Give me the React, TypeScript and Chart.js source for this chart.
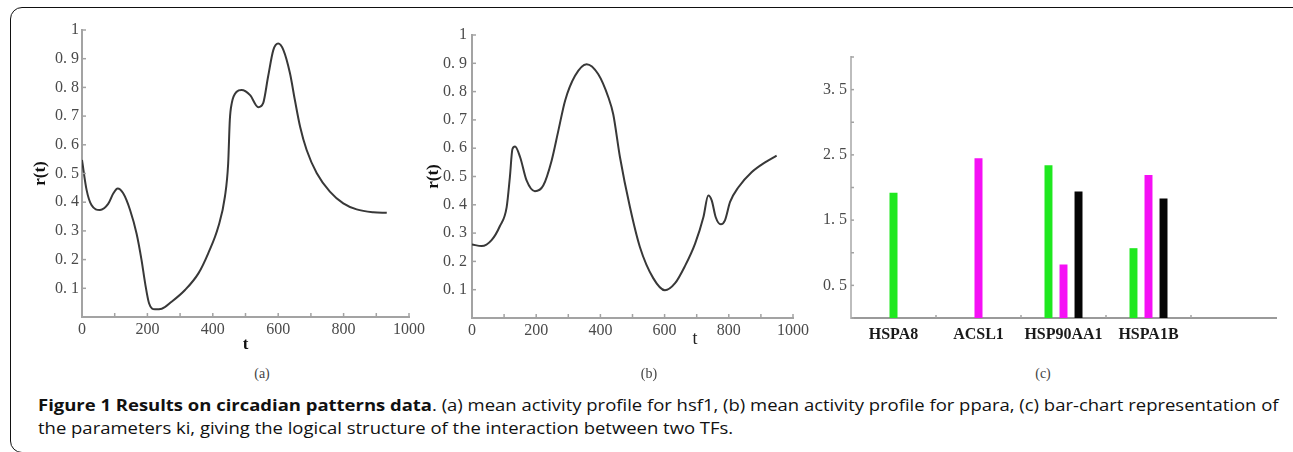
import React, { useEffect, useLayoutEffect, useRef, useState } from 'react';
import { Chart, registerables } from 'chart.js';

Chart.register(...registerables);

const SERIF = '"Liberation Serif", "Times New Roman", serif';

// (a) mean activity profile for hsf1
const tA = [0, 14, 29, 55, 80, 96, 109, 126, 147, 167, 182, 193, 205, 223, 244, 274, 315, 356, 386, 417, 437, 447, 452, 458, 473, 488, 514, 539, 554, 569, 585, 600, 616, 636, 651, 667, 687, 718, 758, 799, 840, 891, 932];
const rA = [0.547, 0.443, 0.39, 0.373, 0.394, 0.431, 0.448, 0.431, 0.373, 0.29, 0.199, 0.118, 0.048, 0.027, 0.029, 0.053, 0.094, 0.152, 0.222, 0.315, 0.419, 0.535, 0.686, 0.745, 0.785, 0.791, 0.773, 0.731, 0.745, 0.837, 0.93, 0.953, 0.93, 0.849, 0.756, 0.663, 0.582, 0.501, 0.437, 0.396, 0.375, 0.365, 0.363];

// (b) mean activity profile for ppara
const tB = [0, 30, 61, 87, 108, 118, 126, 134, 150, 170, 196, 222, 248, 269, 290, 321, 357, 393, 425, 440, 461, 492, 523, 565, 601, 632, 664, 695, 721, 736, 747, 759, 775, 788, 804, 830, 871, 913, 949];
const rB = [0.26, 0.254, 0.275, 0.325, 0.392, 0.498, 0.597, 0.606, 0.568, 0.486, 0.448, 0.468, 0.556, 0.662, 0.768, 0.856, 0.897, 0.862, 0.779, 0.72, 0.568, 0.392, 0.251, 0.14, 0.098, 0.122, 0.185, 0.263, 0.357, 0.433, 0.415, 0.357, 0.331, 0.345, 0.41, 0.462, 0.515, 0.55, 0.574];

// (c) parameters ki
const genes = ['HSPA8', 'ACSL1', 'HSP90AA1', 'HSPA1B', ''];
const kGreen = [1.92, null, 2.34, 1.07, null];
const kMagenta = [null, 2.45, 0.82, 2.19, null];
const kBlack = [null, null, 1.94, 1.83, null];

const AXIS = '#a3a3a3';
const TICKTXT = '#4a4a4a';

function label01(v: number) {
  const n = Math.round(v * 10);
  if (n === 0) return '';
  if (n === 10) return '1';
  return '0. ' + n;
}
function labelHalf(v: number) {
  const n = Math.round(v * 2);
  if (n % 2 === 1) {
    const p = (n / 2).toFixed(1).split('.');
    return p[0] + '. ' + p[1];
  }
  return '';
}

const innerTicks = {
  id: 'innerTicks',
  afterDraw(chart: any, _a: any, opts: any) {
    if (!opts || !opts.enabled) return;
    const ctx = chart.ctx;
    const { left, bottom } = chart.chartArea;
    const xs = chart.scales.x;
    const ys = chart.scales.y;
    ctx.save();
    ctx.strokeStyle = opts.color;
    ctx.lineWidth = opts.width;
    const xp: number[] = [];
    if (opts.boundaries) {
      for (let i = 1; i < xs.ticks.length; i++) xp.push((xs.getPixelForTick(i - 1) + xs.getPixelForTick(i)) / 2);
    } else {
      xs.ticks.forEach((_: any, i: number) => xp.push(xs.getPixelForTick(i)));
    }
    xp.forEach((px) => {
      ctx.beginPath();
      ctx.moveTo(px, bottom);
      ctx.lineTo(px, bottom - opts.len);
      ctx.stroke();
    });
    ys.ticks.forEach((_: any, i: number) => {
      const py = ys.getPixelForTick(i);
      ctx.beginPath();
      ctx.moveTo(left, py);
      ctx.lineTo(left + opts.len, py);
      ctx.stroke();
    });
    ctx.restore();
  },
};

function lineConfig(ts: number[], rs: number[], o: any) {
  return {
    type: 'line',
    data: {
      datasets: [
        {
          data: ts.map((t, i) => ({ x: t, y: rs[i] })),
          borderColor: '#383838',
          borderWidth: 2,
          pointRadius: 0,
          cubicInterpolationMode: 'monotone',
          fill: false,
        },
      ],
    },
    options: {
      animation: false,
      responsive: false,
      events: [],
      layout: { padding: { left: 0, top: o.top, right: 20, bottom: 0 } },
      plugins: {
        legend: { display: false },
        tooltip: { enabled: false },
        innerTicks: { enabled: true, color: AXIS, width: 1.5, len: 4 },
      },
      scales: {
        x: {
          type: 'linear',
          min: 0,
          max: 1000,
          afterFit: (s: any) => { s.height = o.xH; },
          grid: { display: false, drawTicks: false },
          border: { display: true, color: AXIS, width: 2 },
          ticks: {
            stepSize: 100,
            autoSkip: false,
            maxRotation: 0,
            padding: 3,
            color: TICKTXT,
            font: { family: SERIF, size: 16 },
            callback: (v: number) => (Math.round(v) % 200 === 0 ? String(Math.round(v)) : ''),
          },
          title: {
            display: o.xTitle,
            text: 't',
            color: '#111',
            font: { family: SERIF, size: 17, weight: 'bold' },
            padding: { top: 0, bottom: o.xTitlePad },
          },
        },
        y: {
          min: 0,
          max: 1,
          afterFit: (s: any) => { s.width = 82; },
          grid: { display: false, drawTicks: false },
          border: { display: true, color: AXIS, width: 2 },
          ticks: {
            stepSize: 0.1,
            autoSkip: false,
            padding: o.yPad,
            color: TICKTXT,
            font: { family: SERIF, size: 16 },
            callback: (v: number) => label01(v),
          },
          title: {
            display: true,
            text: 'r(t)',
            color: '#111',
            font: { family: SERIF, size: 17, weight: 'bold' },
            padding: { top: o.yTitlePad, bottom: 0 },
          },
        },
      },
    },
    plugins: [innerTicks],
  };
}

function barConfig() {
  const common = { skipNull: true, categoryPercentage: 0.53, barPercentage: 0.53, maxBarThickness: 8 };
  return {
    type: 'bar',
    data: {
      labels: genes,
      datasets: [
        { data: kGreen, backgroundColor: '#1fe81f', ...common },
        { data: kMagenta, backgroundColor: '#f510f5', ...common },
        { data: kBlack, backgroundColor: '#050505', ...common },
      ],
    },
    options: {
      animation: false,
      responsive: false,
      events: [],
      datasets: { bar: { skipNull: true } },
      layout: { padding: { left: 0, top: 57, right: 10, bottom: 0 } },
      plugins: {
        legend: { display: false },
        tooltip: { enabled: false },
        innerTicks: { enabled: true, color: AXIS, width: 1.5, len: 3, boundaries: true },
      },
      scales: {
        x: {
          type: 'category',
          offset: true,
          afterFit: (s: any) => { s.height = 42; },
          grid: { display: false, drawTicks: false },
          border: { display: true, color: '#9a9a9a', width: 2 },
          ticks: {
            autoSkip: false,
            maxRotation: 0,
            padding: 7,
            color: '#1a1a1a',
            font: { family: SERIF, size: 16, weight: 'bold' },
          },
        },
        y: {
          min: 0,
          max: 4,
          afterFit: (s: any) => { s.width = 82; },
          grid: { display: false, drawTicks: false },
          border: { display: true, color: '#bdbdbd', width: 2 },
          ticks: {
            stepSize: 0.5,
            autoSkip: false,
            padding: 4,
            color: TICKTXT,
            font: { family: SERIF, size: 16 },
            callback: (v: number) => labelHalf(v),
          },
        },
      },
    },
    plugins: [innerTicks],
  };
}

function ChartBox({ make, left, top, width, height }: any) {
  const ref = useRef<HTMLCanvasElement>(null);
  useEffect(() => {
    if (!ref.current) return;
    const chart = new Chart(ref.current, make() as any);
    return () => chart.destroy();
  }, []);
  return (
    <canvas
      ref={ref}
      width={width}
      height={height}
      style={{ position: 'absolute', left, top, width, height }}
    />
  );
}

const CAPTION_WIDTH = 1241;

function Caption() {
  const l1 = useRef<HTMLSpanElement>(null);
  const [scale, setScale] = useState(1);
  useLayoutEffect(() => {
    const measure = () => {
      if (l1.current) {
        const w = l1.current.offsetWidth;
        if (w > 0) setScale(CAPTION_WIDTH / w);
      }
    };
    measure();
    const f: any = (document as any).fonts;
    if (f && f.ready) f.ready.then(measure);
  }, []);
  const ls: any = {
    display: 'inline-block',
    whiteSpace: 'nowrap',
    transform: `scaleX(${scale})`,
    transformOrigin: '0 0',
  };
  return (
    <div
      style={{
        position: 'absolute',
        left: 38,
        top: 394,
        fontFamily: '"Open Sans", sans-serif',
        fontSize: 16.5,
        lineHeight: '22.5px',
        color: '#111',
      }}
    >
      <div>
        <span ref={l1} style={ls}>
          <b>Figure 1 Results on circadian patterns data</b>. (a) mean activity profile for hsf1, (b) mean activity
          profile for ppara, (c) bar-chart representation of
        </span>
      </div>
      <div>
        <span style={ls}>the parameters ki, giving the logical structure of the interaction between two TFs.</span>
      </div>
    </div>
  );
}

const sub: any = {
  position: 'absolute',
  fontFamily: SERIF,
  fontSize: 14,
  color: '#444',
  transform: 'translate(-50%, -50%)',
  whiteSpace: 'nowrap',
};

export default function App() {
  return (
    <div style={{ position: 'absolute', left: 0, top: 0, width: 1293, height: 452, overflow: 'hidden', background: '#fff' }}>
      <div
        style={{
          position: 'absolute',
          left: 10,
          top: 7,
          width: 1296,
          height: 446,
          border: '1.5px solid #111',
          borderRadius: 12,
          boxSizing: 'border-box',
        }}
      />
      <ChartBox
        left={0}
        top={0}
        width={429}
        height={360}
        make={() => lineConfig(tA, rA, { top: 30, xH: 43, xTitle: true, xTitlePad: 5, yPad: 3, yTitlePad: 30 })}
      />
      <ChartBox
        left={390}
        top={0}
        width={423}
        height={360}
        make={() => lineConfig(tB, rB, { top: 35, xH: 42, xTitle: false, xTitlePad: 0, yPad: 5, yTitlePad: 33 })}
      />
      <ChartBox left={769} top={0} width={517} height={360} make={() => barConfig()} />
      <div style={{ ...sub, left: 695, top: 338, fontSize: 18, color: '#222' }}>t</div>
      <div style={{ ...sub, left: 262, top: 374 }}>(a)</div>
      <div style={{ ...sub, left: 649, top: 374 }}>(b)</div>
      <div style={{ ...sub, left: 1043, top: 374 }}>(c)</div>
      <Caption />
    </div>
  );
}
